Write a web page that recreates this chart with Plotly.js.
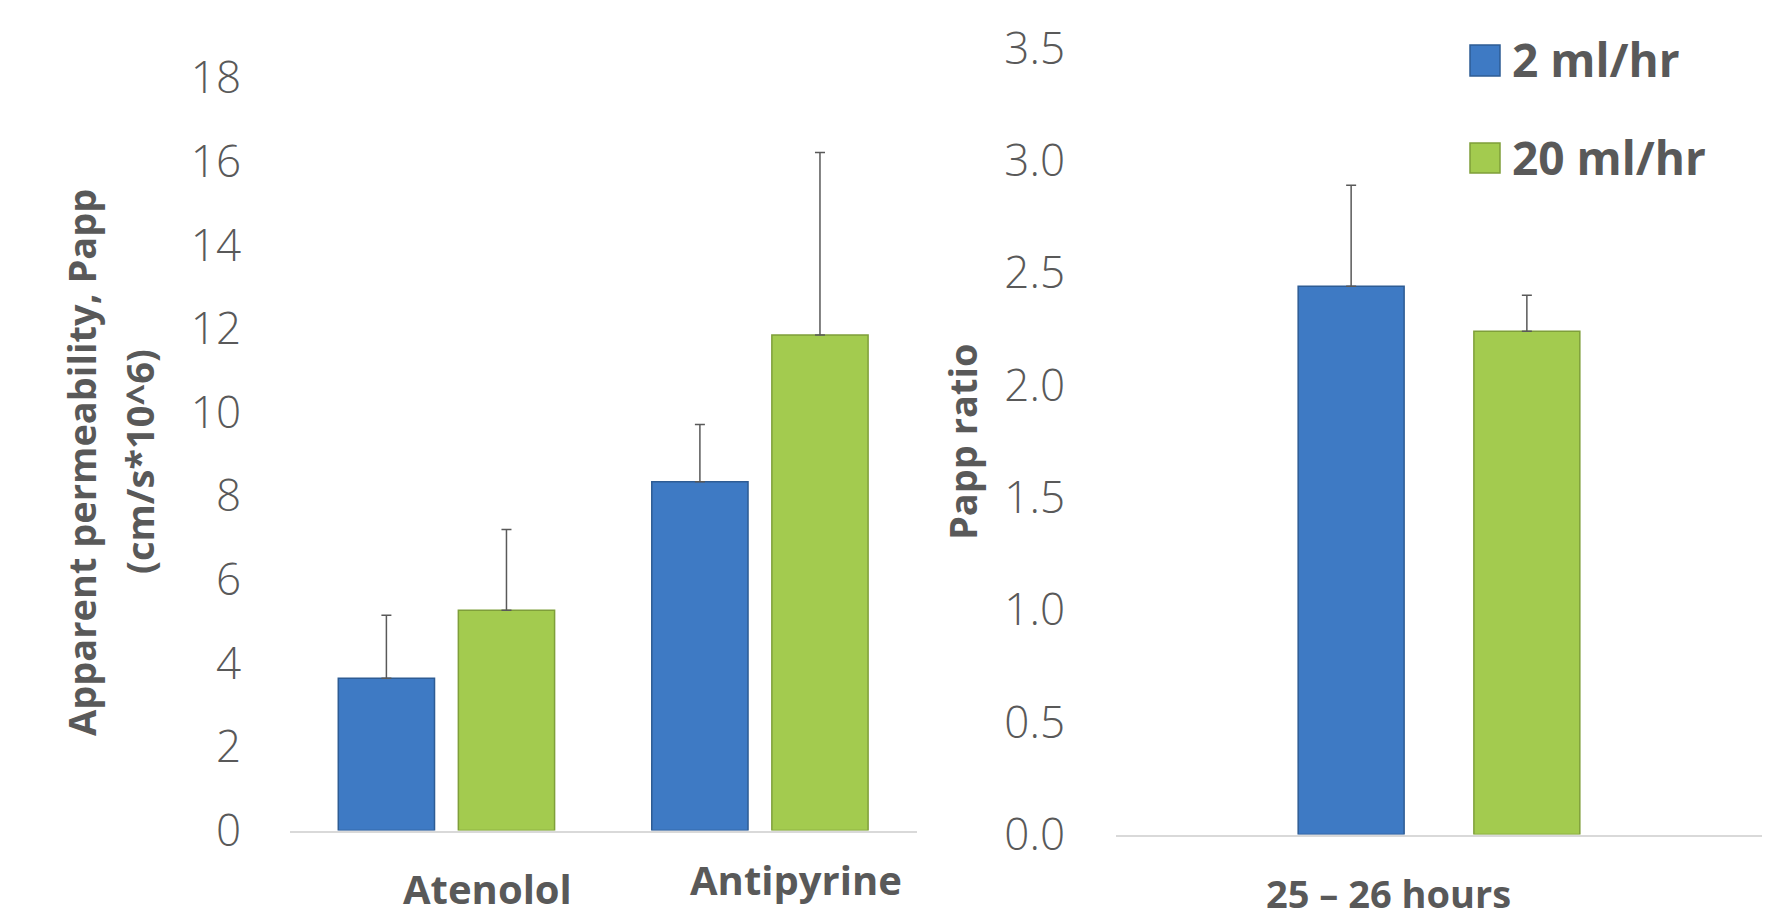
<!DOCTYPE html>
<html>
<head>
<meta charset="utf-8">
<script src="https://cdn.plot.ly/plotly-3.0.1.min.js"></script>
<style>
html,body{margin:0;padding:0;background:#fff;}
#chart{width:1768px;height:919px;}
</style>
</head>
<body>
<div id="chart"></div>
<script>
// ---- data ----
const seriesNames = ['2 ml/hr', '20 ml/hr'];
const categoriesLeft = ['Atenolol', 'Antipyrine'];
const papp2 = [3.64, 8.34];
const papp2Err = [1.51, 1.37];
const papp20 = [5.27, 11.85];
const papp20Err = [1.93, 4.37];

const categoriesRight = ['25 – 26 hours'];
const ratio2 = [2.44];
const ratio2Err = [0.45];
const ratio20 = [2.24];
const ratio20Err = [0.16];

const leftTickVals = [0, 2, 4, 6, 8, 10, 12, 14, 16, 18];
const rightTickVals = [0, 0.5, 1.0, 1.5, 2.0, 2.5, 3.0, 3.5];
const rightTickText = ['0.0', '0.5', '1.0', '1.5', '2.0', '2.5', '3.0', '3.5'];

const leftTitleLines = ['Apparent permeability, Papp', '(cm/s*10^6)'];
const rightTitle = 'Papp ratio';

// ---- styles ----
const BLUE = '#3e7ac4', BLUE_LINE = '#2e5c94';
const GREEN = '#a3cb4f', GREEN_LINE = '#7f9f3a';
const TXT = '#595959';
const FONT = 'Open Sans, Noto Sans, sans-serif';

function errStyle(arr) {
  return {type: 'data', symmetric: false, array: arr, arrayminus: arr.map(() => 0),
          color: TXT, thickness: 1.5, width: 5};
}

const traces = [
  {type: 'bar', name: seriesNames[0], x: categoriesLeft, y: papp2, xaxis: 'x', yaxis: 'y',
   width: 0.307, offset: -0.346,
   marker: {color: BLUE, line: {color: BLUE_LINE, width: 1.5}}, error_y: errStyle(papp2Err)},
  {type: 'bar', name: seriesNames[1], x: categoriesLeft, y: papp20, xaxis: 'x', yaxis: 'y',
   width: 0.307, offset: 0.037,
   marker: {color: GREEN, line: {color: GREEN_LINE, width: 1.5}}, error_y: errStyle(papp20Err)},
  {type: 'bar', name: seriesNames[0], x: categoriesRight, y: ratio2, xaxis: 'x2', yaxis: 'y2',
   width: 0.164, offset: -0.218,
   marker: {color: BLUE, line: {color: BLUE_LINE, width: 1.5}}, error_y: errStyle(ratio2Err)},
  {type: 'bar', name: seriesNames[1], x: categoriesRight, y: ratio20, xaxis: 'x2', yaxis: 'y2',
   width: 0.164, offset: 0.054,
   marker: {color: GREEN, line: {color: GREEN_LINE, width: 1.5}}, error_y: errStyle(ratio20Err)}
];

const W = 1768, H = 919;
const px = v => v / W, py = v => 1 - v / H;

const tickFont = {family: FONT, size: 44, color: TXT, weight: 300};

const layout = {
  width: W, height: H, autosize: false,
  margin: {l: 0, r: 0, t: 0, b: 0},
  paper_bgcolor: '#fff', plot_bgcolor: '#fff',
  showlegend: false,
  barmode: 'overlay',
  xaxis: {domain: [px(290), px(917)], type: 'category', range: [-0.5, 1.5],
          showticklabels: false, ticks: '', showgrid: false, zeroline: false,
          showline: true, linecolor: '#d9d9d9', linewidth: 2.5, fixedrange: true},
  yaxis: {domain: [1 - 830.5 / H, 1 - 78 / H], range: [0, 18], tickvals: leftTickVals,
          showgrid: false, zeroline: false, showline: false, ticks: '',
          ticklabelstandoff: 48, tickfont: tickFont, fixedrange: true},
  xaxis2: {domain: [px(1116), px(1762)], type: 'category', range: [-0.5, 0.5],
           showticklabels: false, ticks: '', showgrid: false, zeroline: false,
           showline: true, linecolor: '#d9d9d9', linewidth: 2.5, anchor: 'y2', fixedrange: true},
  yaxis2: {domain: [1 - 834.5 / H, 1 - 48.2 / H], range: [0, 3.5], tickvals: rightTickVals,
           ticktext: rightTickText, anchor: 'x2',
           showgrid: false, zeroline: false, showline: false, ticks: '',
           ticklabelstandoff: 50, tickfont: tickFont, fixedrange: true},
  annotations: [
    // category labels
    {text: categoriesLeft[0], xref: 'paper', yref: 'paper', x: px(487.5), y: py(888),
     xanchor: 'center', yanchor: 'middle', showarrow: false, borderpad: 0,
     font: {family: FONT, size: 40, color: TXT, weight: 700}},
    {text: categoriesLeft[1], xref: 'paper', yref: 'paper', x: px(796), y: py(879),
     xanchor: 'center', yanchor: 'middle', showarrow: false, borderpad: 0,
     font: {family: FONT, size: 40, color: TXT, weight: 700}},
    {text: categoriesRight[0], xref: 'paper', yref: 'paper', x: px(1388.5), y: py(893),
     xanchor: 'center', yanchor: 'middle', showarrow: false, borderpad: 0,
     font: {family: FONT, size: 38, color: TXT, weight: 700}},
    // y titles
    {text: leftTitleLines[0], xref: 'paper', yref: 'paper', x: px(81), y: py(463),
     xanchor: 'center', yanchor: 'middle', textangle: -90, showarrow: false,
     font: {family: FONT, size: 38, color: TXT, weight: 700}},
    {text: leftTitleLines[1], xref: 'paper', yref: 'paper', x: px(139), y: py(462),
     xanchor: 'center', yanchor: 'middle', textangle: -90, showarrow: false,
     font: {family: FONT, size: 38, color: TXT, weight: 700}},
    {text: rightTitle, xref: 'paper', yref: 'paper', x: px(962), y: py(441),
     xanchor: 'center', yanchor: 'middle', textangle: -90, showarrow: false,
     font: {family: FONT, size: 38, color: TXT, weight: 700}},
    // legend labels
    {text: seriesNames[0], xref: 'paper', yref: 'paper', x: px(1510), y: py(59),
     xanchor: 'left', yanchor: 'middle', showarrow: false,
     font: {family: FONT, size: 46, color: TXT, weight: 700}},
    {text: seriesNames[1], xref: 'paper', yref: 'paper', x: px(1510), y: py(157),
     xanchor: 'left', yanchor: 'middle', showarrow: false,
     font: {family: FONT, size: 46, color: TXT, weight: 700}}
  ],
  shapes: [
    {type: 'rect', xref: 'paper', yref: 'paper', x0: px(1470), x1: px(1500), y0: py(76), y1: py(45),
     fillcolor: BLUE, line: {color: BLUE_LINE, width: 1.5}},
    {type: 'rect', xref: 'paper', yref: 'paper', x0: px(1470), x1: px(1500), y0: py(173), y1: py(143),
     fillcolor: GREEN, line: {color: GREEN_LINE, width: 1.5}}
  ]
};

Plotly.newPlot('chart', traces, layout, {displayModeBar: false, staticPlot: true});
</script>
</body>
</html>
